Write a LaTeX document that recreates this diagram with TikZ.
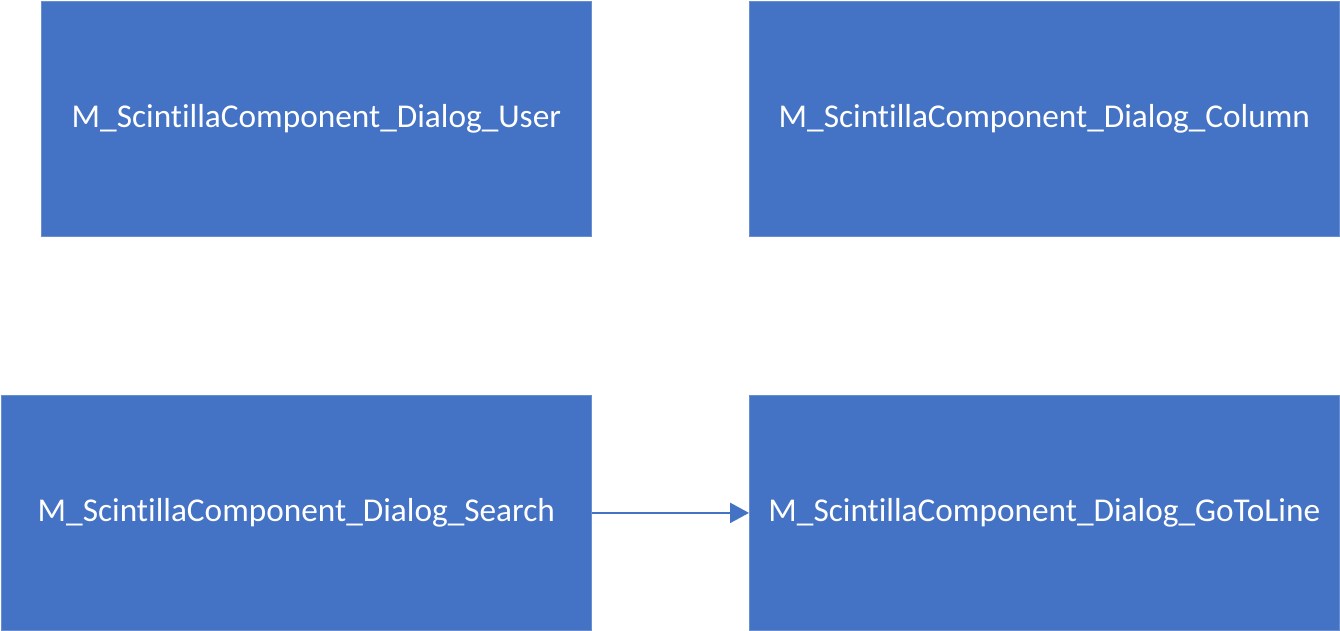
\documentclass[tikz,border=0pt]{standalone}
\usepackage{fontspec}
\setmainfont[Ligatures=NoCommon]{Carlito}
\usetikzlibrary{arrows.meta}
\definecolor{boxblue}{HTML}{4472C4}
\definecolor{boxedge}{HTML}{6A8FD0}
\begin{document}
\begin{tikzpicture}[x=1pt,y=-1pt,
  compbox/.style={draw=boxedge,line width=0.8pt,fill=boxblue,text=white,anchor=north west,inner sep=0pt,
    font=\fontsize{33.3}{38}\selectfont},
  link/.style={draw=boxblue,line width=2.5pt,-{Triangle[length=19pt,width=20pt]}}]
\useasboundingbox (0,0) rectangle (1340,631);
\node[compbox,minimum width=550pt,minimum height=235pt] (user) at (41,1) {\raisebox{-2pt}{M\_ScintillaComponent\_Dialog\_User}};
\node[compbox,minimum width=590pt,minimum height=235pt] (column) at (749,1) {\raisebox{-2pt}{M\_ScintillaComponent\_Dialog\_Column}};
\node[compbox,minimum width=590pt,minimum height=235pt] (search) at (1,395) {\raisebox{-2pt}{M\_ScintillaComponent\_Dialog\_Search}};
\node[compbox,minimum width=590pt,minimum height=235pt] (goto) at (749,395) {\raisebox{-2pt}{M\_ScintillaComponent\_Dialog\_GoToLine}};
\draw[link] (search.east) -- (goto.west);
\end{tikzpicture}
\end{document}
